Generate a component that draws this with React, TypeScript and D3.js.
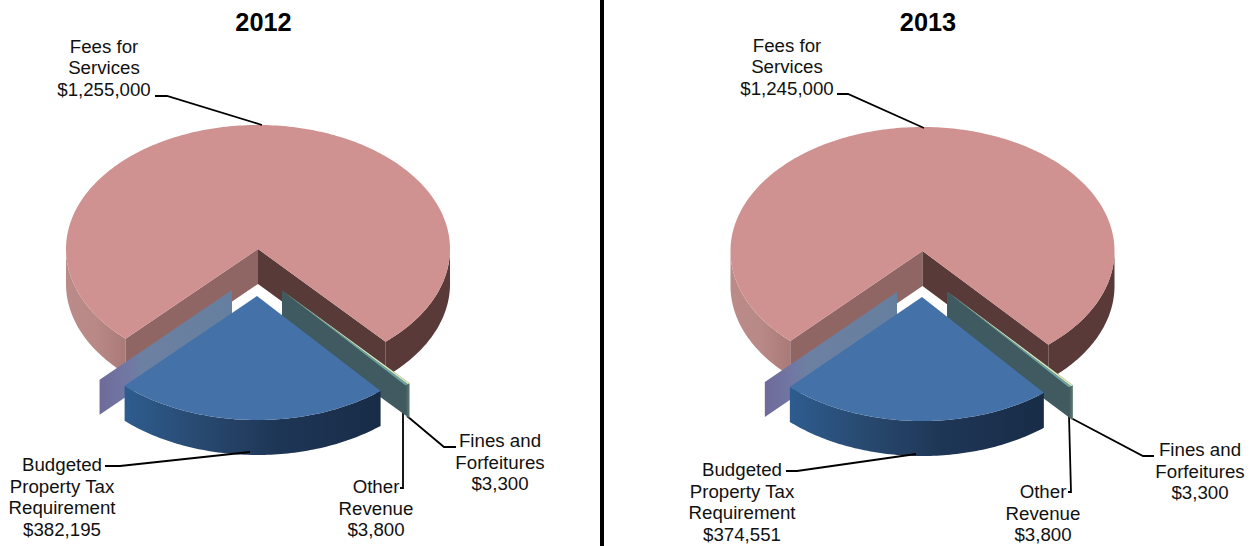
import React from "react";
import * as d3 from "d3";

const categories = ["Fees for Services", "Fines and Forfeitures", "Other Revenue", "Budgeted Property Tax Requirement"];
const values2012 = [1255000, 3300, 3800, 382195];
const values2013 = [1245000, 3300, 3800, 374551];

const labelLines = [
  ["Fees for", "Services"],
  ["Fines and", "Forfeitures"],
  ["Other", "Revenue"],
  ["Budgeted", "Property Tax", "Requirement"],
];

type Layout = {
  id: string; title: string; values: number[]; titleX: number; cx: number; cy: number; startDeg: number;
  blue: [number, number]; ghost: [number, number]; wall: [number, number];
  labels: { x: number; y: number }[]; leaders: [number, number][][];
};

const charts: Layout[] = [
  {
    id: "a", title: "2012", values: values2012, titleX: 263.5, cx: 258, cy: 249, startDeg: 223.6,
    blue: [257, 296], ghost: [232, 290], wall: [282, 290.5],
    labels: [{ x: 104, y: 52.5 }, { x: 500, y: 447 }, { x: 376, y: 493 }, { x: 62, y: 471 }],
    leaders: [
      [[155, 96], [167, 96], [262, 125]],
      [[407, 416], [444, 447], [456, 447]],
      [[403, 413], [403, 488], [400, 488]],
      [[105, 466], [120, 466], [250, 452]],
    ],
  },
  {
    id: "b", title: "2013", values: values2013, titleX: 928, cx: 922.5, cy: 251, startDeg: 223.5,
    blue: [922, 297], ghost: [897, 292], wall: [947, 291.5],
    labels: [{ x: 787, y: 51.5 }, { x: 1200, y: 456 }, { x: 1043, y: 498 }, { x: 742, y: 476 }],
    leaders: [
      [[837, 94], [848, 94], [924, 128]],
      [[1071, 418], [1143, 456], [1154, 456]],
      [[1069, 416], [1071, 492], [1068, 492]],
      [[786, 471], [797, 471], [916, 454]],
    ],
  },
];

const rx = 192, ry = 124, depth = 35;
const deg = Math.PI / 180;

function Pie3D({ c }: { c: Layout }) {
  const pie = d3.pie<number>().sort(null).startAngle(c.startDeg * deg).endAngle((c.startDeg + 360) * deg);
  const arcs = pie(c.values);
  const rim = (o: [number, number], a: number, dy = 0): [number, number] =>
    [o[0] + rx * Math.sin(a), o[1] - ry * Math.cos(a) + dy];
  const line = d3.line<[number, number]>();
  const sweep = (a0: number, a1: number) => {
    const n = Math.max(2, Math.ceil(Math.abs(a1 - a0) / (1 * deg)));
    return d3.range(n + 1).map((i) => a0 + ((a1 - a0) * i) / n);
  };
  const sector = (o: [number, number], a0: number, a1: number) =>
    (line([o, ...sweep(a0, a1).map((a) => rim(o, a))]) as string) + "Z";
  const side = (o: [number, number], a0: number, a1: number) =>
    (line([
      ...sweep(a0, a1).map((a) => rim(o, a)),
      ...sweep(a1, a0).map((a) => rim(o, a, depth)),
    ]) as string) + "Z";
  const wall = (o: [number, number], a: number) =>
    (line([o, rim(o, a), rim(o, a, depth), [o[0], o[1] + depth]]) as string) + "Z";

  const center: [number, number] = [c.cx, c.cy];
  const [fees, fines, other, tax] = arcs;
  const feesEnd = fees.endAngle;

  return (
    <g>
      <defs>
        <linearGradient id={c.id + "pl"} x1="0" x2="1" y1="0" y2="0">
          <stop offset="0" stopColor="#bb8b89" />
          <stop offset="0.5" stopColor="#b98987" />
          <stop offset="1" stopColor="#a97a78" />
        </linearGradient>
        <linearGradient id={c.id + "bs"} x1="0" x2="1" y1="0" y2="0">
          <stop offset="0" stopColor="#2e5c8f" />
          <stop offset="0.3" stopColor="#28496f" />
          <stop offset="0.6" stopColor="#1e3656" />
          <stop offset="1" stopColor="#182c47" />
        </linearGradient>
        <linearGradient id={c.id + "gh"} x1="0" x2="1" y1="0" y2="0">
          <stop offset="0" stopColor="#6e6a9a" />
          <stop offset="0.2" stopColor="#7177a3" />
          <stop offset="0.32" stopColor="#6c80a2" />
          <stop offset="1" stopColor="#667f9f" />
        </linearGradient>
        <linearGradient id={c.id + "wl"} x1="0" x2="1" y1="0" y2="0">
          <stop offset="0" stopColor="#3f5a60" />
          <stop offset="0.97" stopColor="#405a60" />
          <stop offset="1" stopColor="#5f7d70" />
        </linearGradient>
      </defs>
      <text x={c.titleX} y={31} textAnchor="middle" fontFamily="'Liberation Sans'" fontWeight="bold" fontSize={25.3}>{c.title}</text>

      <path d={side(center, fees.startAngle, 270 * deg)} fill={`url(#${c.id}pl)`} />
      <path d={side(center, 90 * deg, feesEnd - 2 * Math.PI)} fill="#593a39" />
      <path d={wall(center, fees.startAngle)} fill="#906664" />
      <path d={wall(center, feesEnd)} fill="#583a39" />
      <path d={sector(center, fees.startAngle, feesEnd)} fill="#d09291" />

      <path d={wall(c.ghost, tax.endAngle)} fill={`url(#${c.id}gh)`} />

      {c.leaders.slice(1, 3).map((l, i) => (
        <path key={i} d={line(l) as string} fill="none" stroke="#000" strokeWidth={1.8} />
      ))}
      <path d={wall(c.wall, fines.startAngle)} fill={`url(#${c.id}wl)`} />
      <path d={sector(c.wall, fines.startAngle, fines.endAngle)} fill="#dfe8b8" />
      <path d={sector(c.wall, fines.endAngle, other.endAngle)} fill="#6fa3a3" />

      <path d={side(c.blue, tax.startAngle, tax.endAngle)} fill={`url(#${c.id}bs)`} />
      <path d={sector(c.blue, tax.startAngle, tax.endAngle)} fill="#4472a8" />

      {[c.leaders[0], c.leaders[3]].map((l, i) => (
        <path key={i} d={line(l) as string} fill="none" stroke="#000" strokeWidth={1.8} />
      ))}
      {categories.map((_, i) => {
        const lines = [...labelLines[i], d3.format("$,")(c.values[i])];
        return (
          <text key={i} textAnchor="middle" fontFamily="'Liberation Sans'" fontSize={18.7} fill="#111">
            {lines.map((t, j) => (
              <tspan key={j} x={c.labels[i].x} y={c.labels[i].y + j * 21.7}>{t}</tspan>
            ))}
          </text>
        );
      })}
    </g>
  );
}

export default function App() {
  return (
    <svg width={1255} height={546} style={{ position: "absolute", left: 0, top: 0, display: "block", background: "#fff" }}>
      {charts.map((c) => <Pie3D key={c.id} c={c} />)}
      <rect x={600} y={0} width={4} height={546} fill="#000" />
    </svg>
  );
}
